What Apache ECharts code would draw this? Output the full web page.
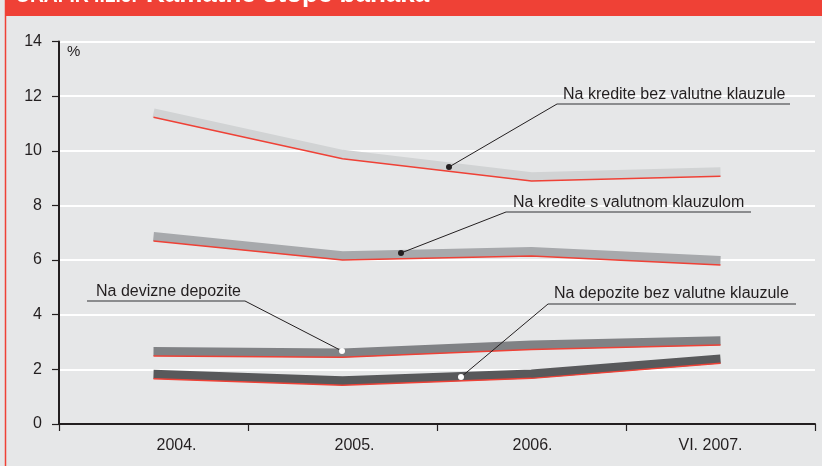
<!DOCTYPE html>
<html>
<head>
<meta charset="utf-8">
<script src="https://cdn.jsdelivr.net/npm/echarts@6/dist/echarts.min.js"></script>
<style>
html,body{margin:0;padding:0;background:#e6e7e8;}
#c{width:822px;height:466px;}
</style>
</head>
<body>
<div id="c"></div>
<script>
// Data
var categories = ['2004.', '2005.', '2006.', 'VI. 2007.'];
var kreditiBezKlauzule = [11.23, 9.71, 8.89, 9.07];
var kreditiSKlauzulom = [6.70, 6.00, 6.15, 5.82];
var devizniDepoziti = [2.49, 2.44, 2.73, 2.89];
var depozitiBezKlauzule = [1.66, 1.42, 1.67, 2.22];
var seriesNames = ['Na kredite bez valutne klauzule', 'Na kredite s valutnom klauzulom', 'Na devizne depozite', 'Na depozite bez valutne klauzule'];
var yTicks = [0, 2, 4, 6, 8, 10, 12, 14];

var ribbonColors = ['#d1d3d4', '#a7a9ac', '#808285', '#58595b'];
var red = '#ef4136';
var dark = '#231f20';
var font = '"Liberation Sans", Arial, sans-serif';

var allData = [kreditiBezKlauzule, kreditiSKlauzulom, devizniDepoziti, depozitiBezKlauzule];
var series = [];
allData.forEach(function (d, i) {
  series.push({
    name: seriesNames[i] + ' (traka)', type: 'line', data: d, yAxisIndex: 1,
    symbol: 'none', silent: true, z: 2,
    lineStyle: { color: ribbonColors[i], width: 9, cap: 'butt', join: 'miter' }
  });
});
allData.forEach(function (d, i) {
  series.push({
    name: seriesNames[i], type: 'line', data: d, yAxisIndex: 0,
    symbol: 'none', silent: true, z: 3,
    lineStyle: { color: red, width: 1.5 }
  });
});

var labelPad = [[0, 0, 0, 46], [0, 0, 0, 24], [0, 0, 0, 2], [0, 20, 0, 0]];
var rich = {};
labelPad.forEach(function (p, i) { rich['l' + i] = { padding: p, fontSize: 16, color: dark, fontFamily: font }; });

function annot(tx, ty, ulx1, ulx2, uly, dx, dy, lx, text, dotColor) {
  return [
    { type: 'line', shape: { x1: ulx1, y1: uly, x2: ulx2, y2: uly }, style: { stroke: '#6d6e71', lineWidth: 1.5 }, z: 10 },
    { type: 'line', shape: { x1: lx, y1: uly, x2: dx, y2: dy }, style: { stroke: dark, lineWidth: 1 }, z: 10 },
    { type: 'circle', shape: { cx: dx, cy: dy, r: 3 }, style: { fill: dotColor }, z: 11 },
    { type: 'text', x: tx, y: ty, style: { text: text, fill: dark, font: '16px ' + font, textVerticalAlign: 'middle', verticalAlign: 'middle' }, z: 10 }
  ];
}

var graphics = [
  { type: 'rect', shape: { x: 5, y: 0, width: 817, height: 16 }, style: { fill: red }, z: 0 },
  { type: 'line', shape: { x1: 5.5, y1: 0, x2: 5.5, y2: 466 }, style: { stroke: red, lineWidth: 1.5 }, z: 0 },
  { type: 'text', x: 15, y: -5, scaleX: 0.74, style: { text: 'GRAFIK I.1.3.', fill: '#ffffff', font: 'bold 26px ' + font, verticalAlign: 'middle', textVerticalAlign: 'middle' }, z: 1 },
  { type: 'text', x: 146, y: -5, style: { text: 'Kamatne stope banaka', fill: '#ffffff', font: 'bold 26px ' + font, verticalAlign: 'middle', textVerticalAlign: 'middle' }, z: 1 },
  { type: 'text', x: 67, y: 52, style: { text: '%', fill: dark, font: '15px ' + font, verticalAlign: 'middle', textVerticalAlign: 'middle' }, z: 10 }
];
graphics = graphics
  .concat(annot(563, 95, 557, 790, 104, 449, 167, 557, seriesNames[0], '#231f20'))
  .concat(annot(513, 203, 506, 751, 212, 401, 253, 506, seriesNames[1], '#231f20'))
  .concat(annot(96, 292, 87, 245, 301, 342, 351, 245, seriesNames[2], '#ffffff'))
  .concat(annot(554, 294, 548, 796, 304, 461, 377, 548, seriesNames[3], '#ffffff'));

var chart = echarts.init(document.getElementById('c'), null, { renderer: 'canvas' });
chart.setOption({
  animation: false,
  backgroundColor: '#e6e7e8',
  grid: { left: 59, right: 7, top: 41.5, bottom: 42, containLabel: false },
  xAxis: {
    type: 'category', data: categories, boundaryGap: true,
    axisLine: { lineStyle: { color: dark, width: 2 } },
    axisTick: { show: true, length: 7, lineStyle: { color: dark, width: 1.2 } },
    axisLabel: {
      margin: 14, fontSize: 16, color: dark, fontFamily: font,
      formatter: function (v, i) { return '{l' + i + '|' + v + '}'; },
      rich: rich
    },
    splitLine: { show: false }
  },
  yAxis: [{
    type: 'value', min: 0, max: 14, interval: 2,
    axisLine: { show: true, lineStyle: { color: dark, width: 2 } },
    axisTick: { show: true, length: 7, lineStyle: { color: dark, width: 1.2 } },
    axisLabel: { margin: 17, fontSize: 16, color: dark, fontFamily: font,
      formatter: function (v) { return yTicks.indexOf(v) >= 0 ? String(v) : ''; } },
    splitLine: { show: true, lineStyle: { color: '#ffffff', width: 2 } }
  }, {
    type: 'value', min: -0.16, max: 13.84, show: false, position: 'right',
    axisLine: { show: false }, axisTick: { show: false }, axisLabel: { show: false },
    splitLine: { show: false }, splitArea: { show: false }
  }],
  series: series,
  graphic: graphics
});
</script>
</body>
</html>
